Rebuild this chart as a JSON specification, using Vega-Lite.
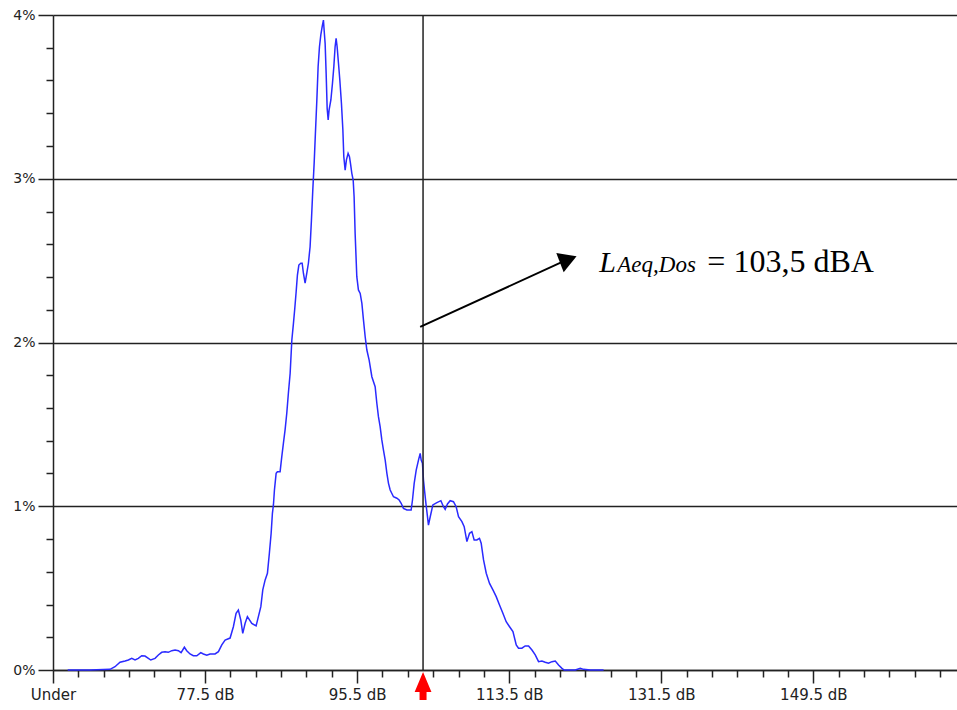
{
  "$schema": "https://vega.github.io/schema/vega-lite/v6.json",
  "width": 904,
  "height": 655,
  "autosize": {"type": "none"},
  "padding": {"left": 53, "top": 15, "right": 0, "bottom": 40},
  "background": "white",
  "config": {
    "view": {"stroke": null},
    "axis": {"domainColor": "#222", "tickColor": "#222", "gridColor": "#222", "labelColor": "#222"}
  },
  "resolve": {"axis": {"x": "independent", "y": "independent"}},
  "layer": [
    {
      "data": {"values": [{"db":61.24,"pct":0},{"db":63.88,"pct":0},{"db":66.25,"pct":0.004},{"db":66.84,"pct":0.02},{"db":67.43,"pct":0.047},{"db":68.03,"pct":0.055},{"db":68.42,"pct":0.061},{"db":68.82,"pct":0.071},{"db":69.21,"pct":0.061},{"db":69.6,"pct":0.071},{"db":70.0,"pct":0.087},{"db":70.39,"pct":0.085},{"db":70.79,"pct":0.071},{"db":71.07,"pct":0.061},{"db":71.58,"pct":0.071},{"db":71.97,"pct":0.092},{"db":72.37,"pct":0.108},{"db":72.76,"pct":0.112},{"db":73.15,"pct":0.108},{"db":73.56,"pct":0.118},{"db":73.95,"pct":0.122},{"db":74.34,"pct":0.118},{"db":74.66,"pct":0.106},{"db":75.05,"pct":0.139},{"db":75.33,"pct":0.118},{"db":75.72,"pct":0.098},{"db":76.11,"pct":0.087},{"db":76.52,"pct":0.087},{"db":76.99,"pct":0.106},{"db":77.3,"pct":0.098},{"db":77.7,"pct":0.09},{"db":78.09,"pct":0.098},{"db":78.68,"pct":0.098},{"db":79.08,"pct":0.112},{"db":79.48,"pct":0.153},{"db":79.87,"pct":0.183},{"db":80.46,"pct":0.195},{"db":80.85,"pct":0.264},{"db":81.17,"pct":0.346},{"db":81.44,"pct":0.366},{"db":81.73,"pct":0.305},{"db":81.96,"pct":0.224},{"db":82.24,"pct":0.285},{"db":82.51,"pct":0.326},{"db":83.03,"pct":0.285},{"db":83.54,"pct":0.269},{"db":83.81,"pct":0.326},{"db":84.1,"pct":0.387},{"db":84.33,"pct":0.489},{"db":84.61,"pct":0.55},{"db":84.88,"pct":0.591},{"db":85.11,"pct":0.713},{"db":85.32,"pct":0.835},{"db":85.47,"pct":0.957},{"db":85.59,"pct":1.008},{"db":85.71,"pct":1.099},{"db":85.91,"pct":1.201},{"db":86.06,"pct":1.211},{"db":86.38,"pct":1.211},{"db":86.58,"pct":1.303},{"db":86.77,"pct":1.384},{"db":86.97,"pct":1.466},{"db":87.17,"pct":1.568},{"db":87.36,"pct":1.69},{"db":87.57,"pct":1.812},{"db":87.77,"pct":2.015},{"db":87.96,"pct":2.117},{"db":88.12,"pct":2.209},{"db":88.28,"pct":2.31},{"db":88.43,"pct":2.412},{"db":88.6,"pct":2.473},{"db":88.83,"pct":2.484},{"db":88.99,"pct":2.484},{"db":89.14,"pct":2.423},{"db":89.34,"pct":2.362},{"db":89.54,"pct":2.423},{"db":89.73,"pct":2.484},{"db":89.93,"pct":2.585},{"db":90.09,"pct":2.748},{"db":90.25,"pct":2.931},{"db":90.41,"pct":3.094},{"db":90.56,"pct":3.278},{"db":90.73,"pct":3.481},{"db":90.88,"pct":3.684},{"db":91.04,"pct":3.806},{"db":91.2,"pct":3.878},{"db":91.36,"pct":3.929},{"db":91.51,"pct":3.969},{"db":91.59,"pct":3.908},{"db":91.71,"pct":3.827},{"db":91.83,"pct":3.644},{"db":91.95,"pct":3.43},{"db":92.07,"pct":3.359},{"db":92.18,"pct":3.42},{"db":92.39,"pct":3.481},{"db":92.58,"pct":3.583},{"db":92.74,"pct":3.684},{"db":92.89,"pct":3.806},{"db":93.01,"pct":3.858},{"db":93.13,"pct":3.806},{"db":93.29,"pct":3.705},{"db":93.45,"pct":3.603},{"db":93.64,"pct":3.461},{"db":93.81,"pct":3.298},{"db":93.92,"pct":3.135},{"db":94.08,"pct":3.053},{"db":94.23,"pct":3.115},{"db":94.43,"pct":3.155},{"db":94.59,"pct":3.135},{"db":94.71,"pct":3.094},{"db":94.87,"pct":3.033},{"db":95.03,"pct":2.992},{"db":95.14,"pct":2.89},{"db":95.26,"pct":2.667},{"db":95.46,"pct":2.402},{"db":95.65,"pct":2.321},{"db":95.86,"pct":2.3},{"db":96.06,"pct":2.239},{"db":96.25,"pct":2.137},{"db":96.45,"pct":2.035},{"db":96.65,"pct":1.954},{"db":96.92,"pct":1.893},{"db":97.24,"pct":1.791},{"db":97.63,"pct":1.73},{"db":97.83,"pct":1.629},{"db":98.02,"pct":1.547},{"db":98.22,"pct":1.486},{"db":98.42,"pct":1.405},{"db":98.61,"pct":1.344},{"db":98.82,"pct":1.282},{"db":99.02,"pct":1.201},{"db":99.21,"pct":1.14},{"db":99.41,"pct":1.099},{"db":99.8,"pct":1.058},{"db":100.2,"pct":1.049},{"db":100.47,"pct":1.038},{"db":100.71,"pct":1.018},{"db":100.98,"pct":0.987},{"db":101.39,"pct":0.977},{"db":101.89,"pct":0.977},{"db":102.05,"pct":1.038},{"db":102.25,"pct":1.14},{"db":102.49,"pct":1.221},{"db":102.76,"pct":1.282},{"db":102.96,"pct":1.323},{"db":103.08,"pct":1.282},{"db":103.23,"pct":1.262},{"db":103.35,"pct":1.16},{"db":103.47,"pct":1.099},{"db":103.64,"pct":1.018},{"db":103.94,"pct":0.885},{"db":104.15,"pct":0.936},{"db":104.46,"pct":1.008},{"db":104.94,"pct":1.022},{"db":105.41,"pct":1.034},{"db":105.72,"pct":0.997},{"db":105.92,"pct":0.981},{"db":106.19,"pct":1.014},{"db":106.51,"pct":1.034},{"db":106.9,"pct":1.028},{"db":107.22,"pct":0.997},{"db":107.5,"pct":0.936},{"db":107.9,"pct":0.906},{"db":108.17,"pct":0.875},{"db":108.49,"pct":0.784},{"db":108.8,"pct":0.835},{"db":109.08,"pct":0.845},{"db":109.35,"pct":0.794},{"db":109.67,"pct":0.794},{"db":109.98,"pct":0.804},{"db":110.18,"pct":0.774},{"db":110.46,"pct":0.672},{"db":110.78,"pct":0.591},{"db":111.17,"pct":0.529},{"db":111.57,"pct":0.489},{"db":111.96,"pct":0.448},{"db":112.35,"pct":0.397},{"db":112.75,"pct":0.346},{"db":113.14,"pct":0.295},{"db":113.54,"pct":0.264},{"db":113.94,"pct":0.234},{"db":114.33,"pct":0.153},{"db":114.6,"pct":0.133},{"db":115.0,"pct":0.133},{"db":115.39,"pct":0.147},{"db":115.79,"pct":0.147},{"db":116.19,"pct":0.122},{"db":116.58,"pct":0.092},{"db":116.97,"pct":0.051},{"db":117.37,"pct":0.055},{"db":117.76,"pct":0.047},{"db":118.15,"pct":0.041},{"db":118.56,"pct":0.051},{"db":118.95,"pct":0.055},{"db":119.34,"pct":0.031},{"db":119.74,"pct":0.01},{"db":120.01,"pct":0},{"db":121.32,"pct":0},{"db":121.91,"pct":0.01},{"db":122.3,"pct":0.004},{"db":123.09,"pct":0},{"db":124.67,"pct":0}]},
      "mark": {"type": "line", "color": "#2a2aff", "strokeWidth": 1.5},
      "encoding": {
        "x": {
          "field": "db", "type": "quantitative",
          "scale": {"domain": [59.5, 166.5], "nice": false, "zero": false},
          "axis": {"orient": "bottom", "values": [59.5, 77.5, 95.5, 113.5, 131.5, 149.5],
            "labelExpr": "datum.value == 59.5 ? 'Under' : format(datum.value, '.1f') + ' dB'",
            "grid": false, "tickSize": 13, "labelPadding": 4, "labelFont": "DejaVu Sans", "labelFontSize": 15,
            "title": null, "domainWidth": 1.5, "tickWidth": 1.5, "labelFlush": false, "labelOverlap": false}
        },
        "y": {
          "field": "pct", "type": "quantitative",
          "scale": {"domain": [0, 4], "nice": false, "zero": true},
          "axis": {"orient": "left", "values": [0, 1, 2, 3, 4], "labelExpr": "datum.value + '%'",
            "grid": true, "gridWidth": 1.5, "tickSize": 15, "labelPadding": 3, "labelFont": "DejaVu Sans", "labelFontSize": 14,
            "title": null, "domainWidth": 1.5, "tickWidth": 1.5, "labelFlush": false, "labelOverlap": false}
        }
      }
    },
    {
      "data": {"values": [{"db": 103.3, "pct": -0.097}]},
      "mark": {"type": "point", "shape": "M0,-1L0.6,0.43L0.25,0.43L0.25,1L-0.25,1L-0.25,0.43L-0.6,0.43Z", "filled": true, "color": "#ff0000", "size": 784, "opacity": 1, "clip": false},
      "encoding": {
        "x": {"field": "db", "type": "quantitative",
          "axis": {"orient": "bottom", "values": [62.5,65.5,68.5,71.5,74.5,80.5,83.5,86.5,89.5,92.5,98.5,101.5,104.5,107.5,110.5,116.5,119.5,122.5,125.5,128.5,134.5,137.5,140.5,143.5,146.5,152.5,155.5,158.5,161.5,164.5],
            "labels": false, "tickSize": 7, "domain": false, "grid": false, "title": null, "tickWidth": 1.5}},
        "y": {"field": "pct", "type": "quantitative",
          "axis": {"orient": "left", "values": [0.2,0.4,0.6,0.8,1.2,1.4,1.6,1.8,2.2,2.4,2.6,2.8,3.2,3.4,3.6,3.8],
            "labels": false, "tickSize": 7, "domain": false, "grid": false, "title": null, "tickWidth": 1.5}}
      }
    },
    {
      "data": {"values": [{"db": 103.3}]},
      "mark": {"type": "rule", "color": "#222", "strokeWidth": 1.5},
      "encoding": {"x": {"field": "db", "type": "quantitative", "axis": null}}
    },
    {
      "data": {"values": [{"db": 102.96, "pct": 2.095}, {"db": 119.78, "pct": 2.492}]},
      "mark": {"type": "line", "color": "#000", "strokeWidth": 2},
      "encoding": {
        "x": {"field": "db", "type": "quantitative", "axis": null},
        "y": {"field": "pct", "type": "quantitative", "axis": null}
      }
    },
    {
      "data": {"values": [{"db": 120.49, "pct": 2.507}]},
      "mark": {"type": "point", "shape": "triangle-right", "filled": true, "color": "#000", "opacity": 1, "size": 420, "angle": -21},
      "encoding": {
        "x": {"field": "db", "type": "quantitative", "axis": null},
        "y": {"field": "pct", "type": "quantitative", "axis": null}
      }
    },
    {
      "data": {"values": [{"db": 124.16, "pct": 2.431}]},
      "mark": {"type": "text", "text": "L", "font": "Liberation Serif", "fontStyle": "italic", "fontSize": 30, "align": "left", "baseline": "alphabetic", "color": "#000"},
      "encoding": {
        "x": {"field": "db", "type": "quantitative", "axis": null},
        "y": {"field": "pct", "type": "quantitative", "axis": null}
      }
    },
    {
      "data": {"values": [{"db": 126.29, "pct": 2.431}]},
      "mark": {"type": "text", "text": "Aeq,Dos", "font": "Liberation Serif", "fontStyle": "italic", "fontSize": 23, "align": "left", "baseline": "alphabetic", "color": "#000"},
      "encoding": {
        "x": {"field": "db", "type": "quantitative", "axis": null},
        "y": {"field": "pct", "type": "quantitative", "axis": null}
      }
    },
    {
      "data": {"values": [{"db": 136.95, "pct": 2.431}]},
      "mark": {"type": "text", "text": "= 103,5 dBA", "font": "Liberation Serif", "fontSize": 32, "align": "left", "baseline": "alphabetic", "color": "#000"},
      "encoding": {
        "x": {"field": "db", "type": "quantitative", "axis": null},
        "y": {"field": "pct", "type": "quantitative", "axis": null}
      }
    }
  ]
}
